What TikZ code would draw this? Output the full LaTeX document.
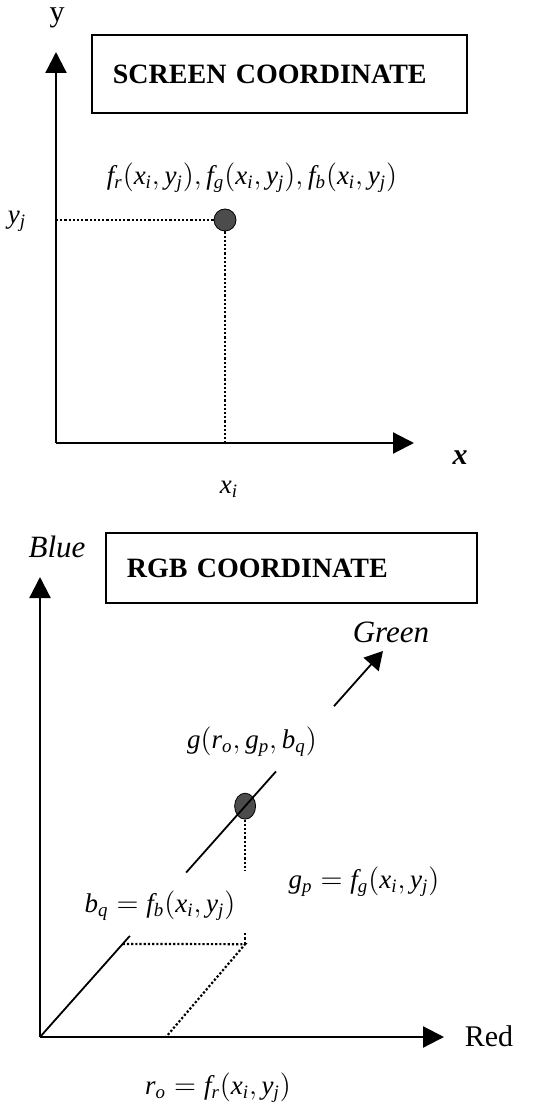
\documentclass[tikz,border=0pt]{standalone}
\usepackage{mathspec}
\setmainfont{Liberation Serif}
\setmathsfont(Digits,Latin){Liberation Serif}
\usepackage{tikz}
\usetikzlibrary{arrows.meta,calc,shapes.geometric}

\begin{document}
\begin{tikzpicture}[
    x=0.5pt, y=-0.5pt,
    axis/.style={-{Triangle[length=10.5pt,width=10.5pt]}, line width=1.1pt},
    gline/.style={line width=0.9pt},
    guide/.style={densely dotted, line width=1.1pt},
    titlebox/.style={draw, line width=0.9pt, anchor=north west, align=left, inner xsep=10.5pt, font=\bfseries\fontsize{14}{16}\selectfont},
    lbl/.style={font=\fontsize{13.5}{16}\selectfont},
    axlbl/.style={font=\itshape\fontsize{15.5}{18}\selectfont},
    pixdot/.style={draw, fill=black!70, inner sep=0pt}
]
\useasboundingbox (0,0) rectangle (541,1106);

\node[titlebox, text width=166.5pt, minimum height=39pt] (scrbox) at (91,34) {SCREEN COORDINATE};
\coordinate (o1) at (56,443);
\coordinate (ytip) at (56,52);
\coordinate (xtip) at (414,443);
\node[pixdot, circle, minimum size=11pt] (pix) at (225,220) {};
\coordinate (yj) at (56,220);
\coordinate (xi) at (225,443);

\draw[axis] (o1) -- (ytip);
\draw[axis] (o1) -- (xtip);
\draw[guide] (yj) -- (pix);
\draw[guide] (pix) -- (xi);

\node[font=\fontsize{15}{18}\selectfont] (ylab) at (57,18) {y};
\node[font=\bfseries\itshape\fontsize{15}{18}\selectfont] (xlab) at (460,458) {x};
\node[lbl] (xilab) at (229,489) {$x_i$};
\node[lbl] (yjlab) at (17,221) {$y_j$};
\node[lbl] (fval) at (252,178) {$f_r(x_i, y_j), f_g(x_i, y_j), f_b(x_i, y_j)$};

\node[titlebox, text width=164.5pt, minimum height=35pt] (rgbbox) at (105,532) {RGB COORDINATE};
\coordinate (o2) at (40,1037);
\coordinate (btip) at (40,577);
\coordinate (rtip) at (444,1037);
\coordinate (gtip) at (383,651);
\coordinate (g1) at ($(o2)!0.262!(gtip)$);
\coordinate (g2) at ($(o2)!0.426!(gtip)$);
\coordinate (g3) at ($(o2)!0.688!(gtip)$);
\coordinate (g4) at ($(o2)!0.857!(gtip)$);
\node[pixdot, ellipse, minimum width=10.5pt, minimum height=13pt] (rgbpt) at ($(o2)!0.598!(gtip)$) {};
\coordinate (gpa) at ($(rgbpt)+(0,65)$);
\coordinate (gpb) at ($(rgbpt)+(0,127)$);
\coordinate (corner) at ($(rgbpt)+(0,138)$);
\coordinate (bq) at ($(o2)!0.241!(gtip)$);
\coordinate (ro) at (166,1037);

\draw[axis] (o2) -- (btip);
\draw[axis] (o2) -- (rtip);
\draw[gline] (o2) -- (g1);
\draw[gline] (g2) -- (g3);
\draw[gline, -{Triangle[length=9pt,width=10pt]}] (g4) -- (gtip);
\draw[guide] (rgbpt) -- (gpa);
\draw[guide] (gpb) -- (corner);
\draw[guide] (bq) -- (corner) -- (ro);

\node[axlbl] (bluelab) at (57,547) {Blue};
\node[axlbl] (greenlab) at (391,632) {Green};
\node[font=\fontsize{15}{18}\selectfont] (redlab) at (489,1036) {Red};
\node[lbl] (gval) at (252,742) {$g(r_o, g_p, b_q)$};
\node[lbl] (bqlab) at (160,906) {$b_q = f_b(x_i, y_j)$};
\node[lbl] (gplab) at (364,882) {$g_p = f_g(x_i, y_j)$};
\node[lbl] (rolab) at (218,1088) {$r_o = f_r(x_i, y_j)$};
\end{tikzpicture}
\end{document}
